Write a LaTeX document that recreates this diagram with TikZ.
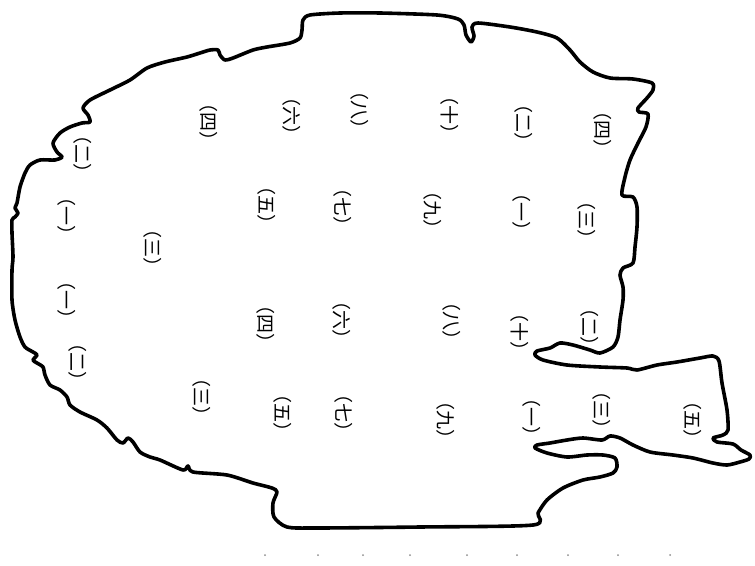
\documentclass[tikz,border=0pt]{standalone}
\usepackage{fontspec}
\newfontfamily\cjk{Noto Sans CJK SC}
\newcommand{\lb}[1]{（\hspace{0.5pt}#1\hspace{0.5pt}）}
\begin{document}
\begin{tikzpicture}[x=1pt,y=-1pt,
  lbl/.style={font=\cjk\fontsize{19}{19}\selectfont, rotate=-90, inner sep=0pt},
  shell/.style={line width=3.6pt, line join=round, line cap=round},
  speck/.style={fill=black!45}]
\useasboundingbox (0,0) rectangle (755,565);
\draw[shell] plot[smooth cycle, tension=0.45] coordinates {
(310,15) (340,13) (380,13) (437,15) (458,19) (464,25) (466,35) (471,42) (474,36) (472,27) (478,23) (510,27) (537,32) (557,38) (570,50) (580,62) (593,72) (610,78) (633,79) (652,83) (653,90) (647,98) (638,108) (639,112) (648,114) (646,127) (638,143) (630,160) (625,177) (622,195) (633,197) (637,207) (637,227) (635,247) (633,263) (623,268) (620,275) (623,287) (623,300) (620,320) (618,337) (613,347) (600,353) (590,350) (573,345) (560,343) (550,348) (537,351) (535,355) (543,360) (567,365) (600,367) (627,368) (637,370) (657,365) (677,362) (700,358) (713,356) (719,361) (722,383) (727,410) (728,430) (723,435) (713,438) (717,442) (733,444) (741,450) (750,455) (749,459) (740,462) (727,465) (713,463) (693,458) (673,455) (650,452) (633,445) (620,438) (610,436) (602,440) (583,438) (567,440) (550,443) (537,445) (535,448) (547,453) (567,457) (587,455) (603,455) (615,458) (617,467) (613,473) (600,477) (583,480) (563,488) (547,500) (538,513) (533,525) (420,527) (317,528) (287,527) (274,517) (273,503) (277,492) (272,488) (253,483) (227,475) (193,472) (188,466) (183,470) (160,460) (150,457) (140,452) (133,442) (128,438) (123,443) (117,440) (107,428) (97,420) (80,412) (70,405) (67,397) (60,390) (50,385) (45,375) (43,367) (37,363) (33,360) (37,355) (33,352) (25,347) (20,337) (15,320) (12,300) (12,270) (13,257) (12,233) (12,220) (15,217) (18,213) (15,208) (17,203) (20,187) (25,173) (30,165) (40,160) (55,160) (62,157) (57,152) (53,143) (60,133) (70,127) (82,123) (90,122) (88,115) (83,108) (90,100) (110,90) (130,80) (147,68) (165,62) (187,57) (200,53) (210,50) (218,50) (220,55) (225,60) (233,58) (253,50) (267,47) (290,43) (300,38) (302,30) (303,20)
};
% top row
\node[lbl] (a1) at (209,122) {\lb{四}};
\node[lbl] (a2) at (292,116) {\lb{六}};
\node[lbl] (a3) at (360,110) {\lb{八}};
\node[lbl] (a4) at (450,115) {\lb{十}};
\node[lbl] (a5) at (524,123) {\lb{二}};
\node[lbl] (a6) at (603,130) {\lb{四}};
% second row
\node[lbl] (b0) at (83,154) {\lb{二}};
\node[lbl] (b1) at (67,216) {\lb{一}};
\node[lbl] (b2) at (153,248) {\lb{三}};
\node[lbl] (b3) at (267,205) {\lb{五}};
\node[lbl] (b4) at (343,207) {\lb{七}};
\node[lbl] (b5) at (433,210) {\lb{九}};
\node[lbl] (b6) at (522,212) {\lb{一}};
\node[lbl] (b7) at (587,220) {\lb{三}};
% third row
\node[lbl] (c1) at (67,300) {\lb{一}};
\node[lbl] (c2) at (78,362) {\lb{二}};
\node[lbl] (c3) at (266,324) {\lb{四}};
\node[lbl] (c4) at (342,320) {\lb{六}};
\node[lbl] (c5) at (452,321) {\lb{八}};
\node[lbl] (c6) at (520,332) {\lb{十}};
\node[lbl] (c7) at (590,327) {\lb{二}};
% bottom row
\node[lbl] (d1) at (202,397) {\lb{三}};
\node[lbl] (d2) at (283,413) {\lb{五}};
\node[lbl] (d3) at (344,413) {\lb{七}};
\node[lbl] (d4) at (446,420) {\lb{九}};
\node[lbl] (d5) at (532,417) {\lb{一}};
\node[lbl] (d6) at (602,410) {\lb{三}};
\node[lbl] (d7) at (693,420) {\lb{五}};
% faint specks at the bottom
\foreach \x in {265,318,363,410,467,517,568,618,670}
  \fill[speck] (\x,555) circle (1pt);
\end{tikzpicture}
\end{document}
